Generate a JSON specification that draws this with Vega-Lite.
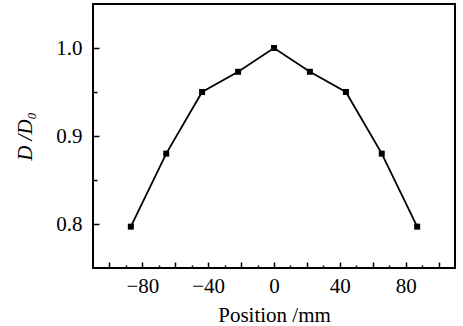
{
  "$schema": "https://vega.github.io/schema/vega-lite/v6.json",
  "width": 362,
  "height": 264,
  "autosize": "none",
  "padding": {"left": 93, "top": 4, "right": 8, "bottom": 58},
  "background": "white",
  "config": {
    "view": {"stroke": "black", "strokeWidth": 2},
    "axis": {
      "labelFont": "Liberation Serif",
      "titleFont": "Liberation Serif",
      "labelFontSize": 21,
      "titleFontSize": 21,
      "labelColor": "black",
      "titleColor": "black",
      "titleFontWeight": "normal",
      "domain": false,
      "grid": false,
      "ticks": true,
      "tickColor": "black",
      "tickWidth": 1.5
    }
  },
  "data": {
    "values": [
      {"pos": -87, "ratio": 0.797},
      {"pos": -65.5, "ratio": 0.880},
      {"pos": -43.7, "ratio": 0.950},
      {"pos": -21.8, "ratio": 0.973},
      {"pos": 0, "ratio": 1.000},
      {"pos": 21.8, "ratio": 0.973},
      {"pos": 43.7, "ratio": 0.950},
      {"pos": 65.5, "ratio": 0.880},
      {"pos": 87, "ratio": 0.797}
    ]
  },
  "encoding": {
    "x": {
      "field": "pos",
      "type": "quantitative",
      "scale": {"domain": [-110, 110], "nice": false, "zero": false},
      "axis": {
        "title": "Position /mm",
        "values": [-100, -90, -80, -70, -60, -50, -40, -30, -20, -10, 0, 10, 20, 30, 40, 50, 60, 70, 80, 90, 100],
        "labelExpr": "datum.value % 40 === 0 ? format(datum.value, 'd') : ''",
        "tickSize": {"condition": {"test": "datum.value % 20 === 0", "value": -6}, "value": -3},
        "labelPadding": 13,
        "titlePadding": 5,
        "labelFlush": false,
        "labelOverlap": false
      }
    },
    "y": {
      "field": "ratio",
      "type": "quantitative",
      "scale": {"domain": [0.75, 1.05], "nice": false, "zero": false},
      "axis": {
        "title": "D /D₀",
        "titleFontStyle": "italic",
        "values": [0.8, 0.85, 0.9, 0.95, 1.0],
        "labelExpr": "round(datum.value * 100) % 10 === 0 ? format(datum.value, '.1f') : ''",
        "tickSize": {"condition": {"test": "round(datum.value * 100) % 10 === 0", "value": -6}, "value": -4},
        "labelPadding": 17,
        "titlePadding": 20,
        "labelFlush": false,
        "labelOverlap": false
      }
    }
  },
  "layer": [
    {"mark": {"type": "line", "color": "black", "strokeWidth": 1.8}},
    {"mark": {"type": "point", "shape": "square", "filled": true, "color": "black", "opacity": 1, "size": 36}}
  ]
}
